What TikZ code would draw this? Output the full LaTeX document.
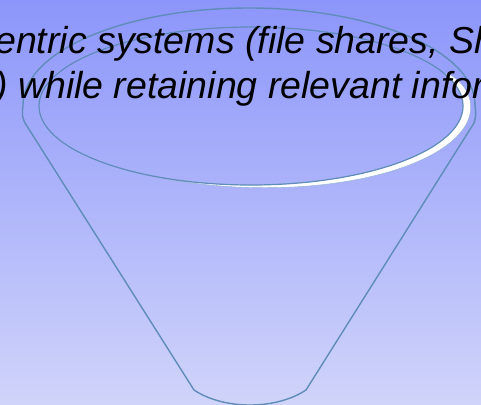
\documentclass[tikz,border=0pt]{standalone}
\usepackage{fontspec}
\setmainfont{Liberation Sans}

\definecolor{SkyTop}{RGB}{140,150,250}
\definecolor{SkyBottom}{RGB}{208,212,250}
\definecolor{FunnelBlue}{RGB}{95,140,185}

\begin{document}
\begin{tikzpicture}[x=1pt, y=-1pt,
    captionline/.style={anchor=base west, inner sep=0pt, font=\itshape\fontsize{37.5}{45}\selectfont}]
                % Background
                \shade[top color=SkyTop, bottom color=SkyBottom] (0,0) rectangle (481,404);
                \useasboundingbox (0,0) rectangle (481,404);
                \clip (0,0) rectangle (481,404);
                
                % Funnel body with outer rim
                \draw[FunnelBlue, line width=1.4pt, line join=round] (194,390) -- (25,123) .. controls (22,116) .. (23,105)
                    arc[start angle=180, end angle=360, x radius=226, y radius=97]
                    .. controls (476,116) .. (474,123) -- (306,390)
                    .. controls (276,410) and (224,410) .. (194,390);
                
                % Highlight on the inner rim
                \fill[white, draw=FunnelBlue!70, line width=0.4pt]
                    plot[domain=-25:118, samples=60] ({251+(212+8*sin(180*sqrt((\x+25)/143)))*cos(\x)}, {106+(79+8*sin(180*sqrt((\x+25)/143)))*sin(\x)})
                    -- plot[domain=118:-25, samples=60] ({251+212*cos(\x)}, {106+79*sin(\x)}) -- cycle;
                
                % Inner rim
                \draw[FunnelBlue, line width=1.2pt] (251,106) ellipse[x radius=212, y radius=79];
                
                % Caption lines
                \node[captionline] (line1) at (-5,53) {entric systems (file shares, Sh};
                \node[captionline] (line2) at (-5,98) {) while retaining relevant infor};
            \end{tikzpicture}
\end{document}
